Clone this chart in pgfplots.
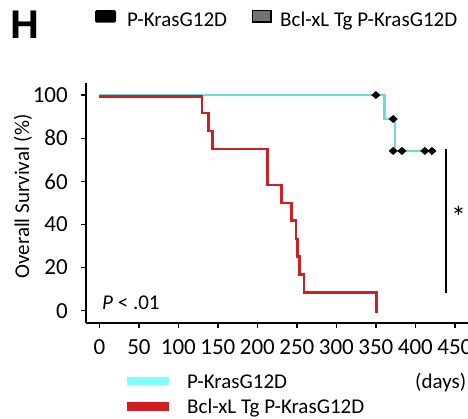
\documentclass[border=0pt]{standalone}
\usepackage{pgfplots}
\pgfplotsset{compat=1.18}
\usepackage{fontspec}
\setmainfont{Carlito}
\newfontfamily\arialfont{Liberation Sans}
\definecolor{kcyan}{HTML}{6FD8D8}
\definecolor{kcyanleg}{HTML}{80FFFF}
\definecolor{kred}{HTML}{D01E22}
\begin{document}
\fontsize{21bp}{25bp}\selectfont
\begin{tikzpicture}[x=1bp,y=1bp]
\path[use as bounding box] (0,0) rectangle (468,-418);
\clip (0,0) rectangle (468,-418);

% panel letter and top legend
\node[anchor=center, font=\arialfont\bfseries\fontsize{40bp}{44bp}\selectfont] at (25,-25) {H};
\fill[black, rounded corners=1.5bp] (95,-10) rectangle (116,-22.5);
\node[anchor=base west, inner sep=0pt] at (127,-26) {P-KrasG12D};
\filldraw[fill=black!55, draw=black, line width=1.4bp] (252.5,-10.5) rectangle (271,-22);
\node[anchor=base west, inner sep=0pt] at (280,-26) {Bcl-xL Tg P-KrasG12D};

\begin{axis}[
    at={(86bp,-323bp)}, anchor=south west,
    scale only axis, width=382bp, height=240bp,
    xmin=-17, xmax=466.7, ymin=-5.7, ymax=105.6,
    axis x line*=bottom, axis y line*=left,
    axis line style={line width=1.4bp, -},
    tick style={line width=1.4bp, black},
    tick align=outside, major tick length=5bp,
    xtick={0,50,...,450}, ytick={0,20,...,100},
    /pgf/number format/assume math mode=true,
    ticklabel style={font=\fontsize{23bp}{27bp}\selectfont},
    xticklabel style={yshift=-4bp},
    yticklabel style={xshift=-6bp},
    clip=false,
]
% wild type P-KrasG12D
\addplot[kcyan, line width=2.6bp] coordinates {
    (0,100) (361,100) (361,88.9) (374,88.9) (374,74.1) (421,74.1)
};
% Bcl-xL Tg P-KrasG12D
\addplot[kred, line width=2.8bp] coordinates {
    (0,99.3) (130,99.3) (130,91.7) (138,91.7) (138,83.3) (143,83.3)
    (143,75) (213,75) (213,58.3) (231,58.3) (231,50) (243,50)
    (243,41.7) (249,41.7) (249,33.3) (251,33.3) (251,25) (253,25)
    (253,16.7) (259,16.7) (259,8.3) (351,8.3) (351,-1)
};
% censored
\addplot[only marks, mark=diamond*, mark size=4bp, black,
    mark options={xscale=1.4, yscale=0.92}] coordinates {
    (350,100) (372,88.9) (372,74.1) (383,74.1) (412,74.1) (421,74.1)
};
% significance bar
\addplot[black, line width=1.6bp] coordinates {(439,75) (439,8.3)};
\end{axis}

\node[font=\fontsize{30bp}{34bp}\selectfont, inner sep=0pt] at (458.5,-216.7) {*};
\node[anchor=base west, inner sep=0pt] at (102,-309) {\textit{P} < .01};
\node[rotate=90, inner sep=0pt] at (23,-196.5) {Overall Survival (\%)};

% bottom legend
\fill[kcyanleg] (127,-377.3) rectangle (169,-385);
\fill[kred] (127,-402.3) rectangle (169,-410.7);
\node[anchor=base west, inner sep=0pt] at (187,-388) {P-KrasG12D};
\node[anchor=base west, inner sep=0pt] at (187,-413) {Bcl-xL Tg P-KrasG12D};
\node[anchor=base west, inner sep=0pt] at (415,-388) {(days)};
\end{tikzpicture}
\end{document}
